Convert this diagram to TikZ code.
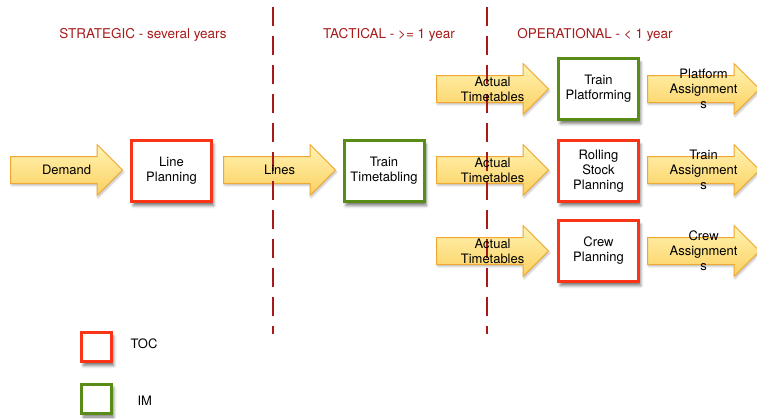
\documentclass[tikz,border=0pt]{standalone}
\usepackage{fontspec}
\setmainfont{TeX Gyre Heros}
\usetikzlibrary{shapes.arrows,shadows.blur,calc}

\definecolor{tocred}{RGB}{250,52,22}
\definecolor{imgreen}{RGB}{88,140,22}
\definecolor{phasered}{RGB}{168,26,26}
\definecolor{flowline}{RGB}{240,168,50}
\definecolor{flowtop}{RGB}{255,243,178}
\definecolor{flowbot}{RGB}{252,208,96}

\tikzset{
  flow/.style={single arrow, draw=flowline, line width=1pt,
    top color=flowtop, bottom color=flowbot, anchor=tail,
    minimum height=112pt, inner xsep=0pt, inner ysep=13pt,
    single arrow head extend=12pt,
    blur shadow={shadow xshift=1pt, shadow yshift=-2pt,
      shadow blur radius=2pt, shadow opacity=25}},
  flowtext/.style={align=center, font=\fontsize{13}{15}\selectfont},
  task/.style={draw, line width=3pt, fill=white,
    minimum width=80pt, minimum height=61pt, align=center,
    font=\fontsize{13}{15}\selectfont,
    blur shadow={shadow xshift=2pt, shadow yshift=-4pt,
      shadow blur radius=3pt, shadow opacity=55}},
  key/.style={draw, line width=3pt, fill=white,
    minimum width=30pt, minimum height=29pt,
    blur shadow={shadow xshift=2pt, shadow yshift=-4pt,
      shadow blur radius=3pt, shadow opacity=55}},
  phase/.style={phasered, font=\fontsize{13.5}{15}\selectfont},
  divider/.style={phasered, line width=2pt, dash pattern=on 19pt off 10pt}
}

\begin{document}
\begin{tikzpicture}[x=1pt, y=-1pt]
  \useasboundingbox (0,0) rectangle (757,418);

  % phases
  \node[phase] (strat) at (143,35) {STRATEGIC - several years};
  \node[phase] (tact) at (389,35) {TACTICAL - >= 1 year};
  \node[phase] (oper) at (595,35) {OPERATIONAL - < 1 year};

  % strategic / tactical
  \node[flow] (demand) at (10,170) {};
  \node[task, draw=tocred] (lineplan) at (171.5,171) {Line\\Planning};
  \node[flow] (lines) at (223,170) {};
  \node[task, draw=imgreen] (timetab) at (384,171) {Train\\Timetabling};

  % operational
  \node[flow] (act1) at (436,89) {};
  \node[flow] (act2) at (436,170) {};
  \node[flow] (act3) at (436,251) {};
  \node[task, draw=imgreen] (platf) at (598.5,89) {Train\\Platforming};
  \node[task, draw=tocred] (rolling) at (598.5,171) {Rolling\\Stock\\Planning};
  \node[task, draw=tocred] (crew) at (598.5,251) {Crew\\Planning};
  \node[flow] (out1) at (647,89) {};
  \node[flow] (out2) at (647,170) {};
  \node[flow] (out3) at (647,251) {};

  % dividers
  \draw[divider] (273,7) -- (273,334);
  \draw[divider] (487,7) -- (487,334);

  % arrow texts
  \node[flowtext] (demandt) at ($(demand.tail)!0.5!(demand.tip)$) {Demand};
  \node[flowtext] (linest) at ($(lines.tail)!0.5!(lines.tip)$) {Lines};
  \node[flowtext] (act1t) at ($(act1.tail)!0.5!(act1.tip)$) {Actual\\Timetables};
  \node[flowtext] (act2t) at ($(act2.tail)!0.5!(act2.tip)$) {Actual\\Timetables};
  \node[flowtext] (act3t) at ($(act3.tail)!0.5!(act3.tip)$) {Actual\\Timetables};
  \node[flowtext] (out1t) at ($(out1.tail)!0.5!(out1.tip)$) {Platform\\Assignment\\s};
  \node[flowtext] (out2t) at ($(out2.tail)!0.5!(out2.tip)$) {Train\\Assignment\\s};
  \node[flowtext] (out3t) at ($(out3.tail)!0.5!(out3.tip)$) {Crew\\Assignment\\s};

  % legend
  \node[key, draw=tocred] (tockey) at (96.5,347) {};
  \node[flowtext, anchor=west] (toct) at (127,344) {TOC};
  \node[key, draw=imgreen] (imkey) at (96.5,398.5) {};
  \node[flowtext, anchor=west] (imt) at (134,401) {IM};
\end{tikzpicture}
\end{document}
